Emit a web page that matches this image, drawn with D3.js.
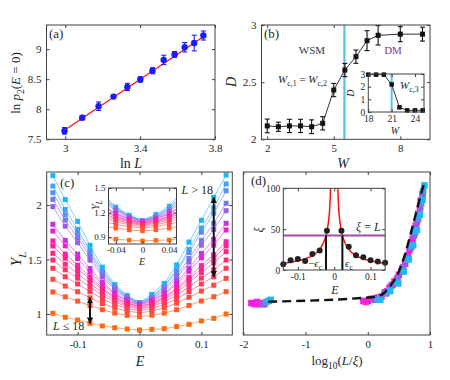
<!DOCTYPE html>
<html>
<head>
<meta charset="utf-8">
<script src="https://cdn.jsdelivr.net/npm/d3@7"></script>
<style>
body { margin: 0; background: #fff; }
svg text { font-family: "Liberation Serif", "DejaVu Serif", serif; fill: #262626; }
</style>
</head>
<body>
<svg width="450" height="380"></svg>
<script>
// ---------------- (a) ln p2 vs ln L ----------------
var lnL   = [2.996, 3.091, 3.178, 3.258, 3.332, 3.401, 3.466, 3.526, 3.584, 3.638, 3.689, 3.738];
var lnP2  = [7.64, 7.86, 8.05, 8.21, 8.37, 8.495, 8.64, 8.82, 8.91, 9.03, 9.10, 9.225];
var errP2 = [0.055, 0.036, 0.07, 0.03, 0.06, 0.045, 0.05, 0.078, 0.047, 0.078, 0.13, 0.075];
var fitL  = [3.0, 3.74];
var fitP2 = [7.66, 9.21];

// ---------------- (b) D vs W ----------------
var W    = [2, 2.5, 3, 3.5, 4, 4.5, 5, 5.5, 6, 6.5, 7, 8, 9];
var D    = [2.117, 2.11, 2.117, 2.117, 2.11, 2.14, 2.431, 2.606, 2.723, 2.863, 2.91, 2.92, 2.92];
var errD = [0.06, 0.04, 0.058, 0.058, 0.06, 0.058, 0.058, 0.058, 0.058, 0.087, 0.085, 0.066, 0.061];
var Wc12 = 5.48;
var Win  = [18, 19, 20, 21, 22, 23, 24, 25];
var Din  = [2.95, 2.95, 2.95, 2.18, 0.37, 0.13, 0.13, 0.13];
var Wc3  = 21;

// ---------------- (c) Y_L vs E ----------------
var E = [-0.14, -0.12, -0.10, -0.08, -0.06, -0.04, -0.02, 0, 0.02, 0.04, 0.06, 0.08, 0.10, 0.12, 0.14];
var YL = [
  [1.006, 0.970, 0.945, 0.915, 0.890, 0.874, 0.862, 0.853, 0.859, 0.865, 0.884, 0.905, 0.936, 0.960, 1.000],
  [1.202, 1.157, 1.118, 1.077, 1.039, 1.008, 0.987, 0.975, 0.988, 1.008, 1.039, 1.078, 1.119, 1.158, 1.205],
  [1.318, 1.256, 1.204, 1.149, 1.096, 1.055, 1.027, 1.010, 1.027, 1.056, 1.099, 1.153, 1.210, 1.264, 1.327],
  [1.419, 1.341, 1.275, 1.205, 1.139, 1.086, 1.051, 1.030, 1.051, 1.086, 1.139, 1.205, 1.275, 1.341, 1.419],
  [1.495, 1.405, 1.329, 1.248, 1.171, 1.110, 1.070, 1.045, 1.070, 1.110, 1.171, 1.248, 1.329, 1.405, 1.495],
  [1.557, 1.457, 1.371, 1.281, 1.196, 1.128, 1.083, 1.055, 1.083, 1.130, 1.200, 1.288, 1.381, 1.469, 1.572],
  [1.624, 1.512, 1.417, 1.317, 1.222, 1.146, 1.096, 1.065, 1.096, 1.146, 1.222, 1.317, 1.417, 1.512, 1.624],
  [1.670, 1.550, 1.448, 1.340, 1.238, 1.157, 1.103, 1.070, 1.103, 1.156, 1.236, 1.337, 1.444, 1.544, 1.663],
  [1.761, 1.625, 1.509, 1.386, 1.271, 1.179, 1.117, 1.080, 1.118, 1.180, 1.273, 1.391, 1.515, 1.633, 1.771],
  [1.823, 1.675, 1.550, 1.417, 1.292, 1.192, 1.126, 1.085, 1.126, 1.193, 1.294, 1.421, 1.556, 1.683, 1.832],
  [1.985, 1.806, 1.654, 1.493, 1.341, 1.220, 1.139, 1.090, 1.137, 1.214, 1.330, 1.476, 1.631, 1.776, 1.948],
  [2.052, 1.861, 1.698, 1.526, 1.363, 1.234, 1.148, 1.095, 1.146, 1.229, 1.353, 1.509, 1.675, 1.832, 2.016],
  [2.113, 1.910, 1.738, 1.556, 1.384, 1.247, 1.156, 1.100, 1.157, 1.249, 1.389, 1.564, 1.750, 1.925, 2.131],
  [2.174, 1.959, 1.777, 1.583, 1.401, 1.256, 1.159, 1.100, 1.160, 1.258, 1.406, 1.592, 1.789, 1.974, 2.193],
  [2.270, 2.050, 1.850, 1.630, 1.430, 1.270, 1.170, 1.105, 1.180, 1.280, 1.450, 1.660, 1.860, 2.070, 2.275]
];
var colC = ["#ff6a10", "#ff5a28", "#ff4a40", "#ff3a58", "#ff3070", "#ff2880", "#ff2090", "#f820b0",
            "#e622d4", "#c432e2", "#9460e2", "#7878ee", "#5a8ef2", "#3ca4f4", "#18b8f4"];

// ---------------- (d) scaling collapse ----------------
var dX = [
  [-1.87, -1.82, -1.78, -0.07, 0.0, 0.07, 0.16, 0.27, 0.35, 0.43, 0.50, 0.56, 0.62, 0.67, 0.72, 0.77, 0.81, 0.85],
  [-1.76, -1.73, -0.03, 0.05, 0.12, 0.22, 0.31, 0.40, 0.47, 0.54, 0.60, 0.65, 0.70, 0.75, 0.80, 0.84, 0.88],
  [-1.69, -1.66, 0.10, 0.19, 0.28, 0.38, 0.48, 0.57, 0.64, 0.69, 0.74, 0.79, 0.84, 0.88],
  [-1.63, 0.15, 0.30, 0.45, 0.55, 0.63, 0.70, 0.76, 0.81, 0.86, 0.89],
  [-1.59, -1.56, 0.20, 0.36, 0.49, 0.58, 0.66, 0.73, 0.79, 0.84, 0.88, 0.91]
];
var dY = [
  [1.10, 1.09, 1.11, 1.12, 1.12, 1.14, 1.15, 1.19, 1.24, 1.30, 1.36, 1.42, 1.50, 1.59, 1.69, 1.81, 1.92, 2.04],
  [1.09, 1.10, 1.11, 1.13, 1.14, 1.16, 1.21, 1.27, 1.32, 1.39, 1.46, 1.54, 1.63, 1.74, 1.87, 1.99, 2.10],
  [1.09, 1.09, 1.13, 1.15, 1.20, 1.26, 1.33, 1.43, 1.52, 1.61, 1.72, 1.84, 1.97, 2.10],
  [1.11, 1.13, 1.19, 1.29, 1.40, 1.50, 1.62, 1.75, 1.88, 2.02, 2.13],
  [1.12, 1.13, 1.13, 1.21, 1.28, 1.39, 1.50, 1.63, 1.77, 1.91, 2.05, 2.18]
];
var colD = ["#f01ee6", "#ff22cc", "#9060e0", "#5a90f0", "#1ab8f4"];
var fitX = [-1.6, 0, 0.2, 0.35, 0.5, 0.6, 0.7, 0.8, 0.9];
var fitY = [1.113, 1.151, 1.17, 1.25, 1.39, 1.55, 1.76, 1.98, 2.19];

// inset (d): correlation length vs E
var Exi = [-0.14, -0.12, -0.10, -0.08, -0.06, -0.04, -0.02, 0.02, 0.04, 0.06, 0.08, 0.10, 0.12, 0.14];
var xi  = [7, 12, 13.5, 11, 19.5, 24, 48, 48, 28.5, 18, 15.5, 12, 10.5, 9];
var fitE  = [0.01, 0.012, 0.015, 0.02, 0.03, 0.04, 0.06, 0.08, 0.10, 0.12, 0.14];
var fitXi = [100, 78, 62, 47, 33, 25.3, 17.7, 13.7, 11.2, 9.5, 8.3];
var xiL  = 42.3;
var epsC = 0.0225;

// ======================================================================
var svg = d3.select("svg");
var defs = svg.append("defs");
var frameCol = "#404040";

function rich(sel, parts, size) {
  var shift = 0;
  parts.forEach(function(p) {
    var f = p[1] || "", sub = f.indexOf("s") >= 0, want = sub ? size * 0.3 : 0;
    var ts = sel.append("tspan").text(p[0]).attr("dy", want - shift);
    shift = want;
    if (f.indexOf("i") >= 0) ts.attr("font-style", "italic");
    if (sub) ts.attr("font-size", size * 0.72);
  });
  return sel;
}

function label(g, x, y, parts, size, opt) {
  opt = opt || {};
  var t = g.append("text").attr("x", x).attr("y", y).attr("font-size", size)
    .attr("text-anchor", opt.anchor || "start");
  if (opt.rotate) t.attr("transform", "rotate(-90," + x + "," + y + ")");
  if (opt.fill) t.style("fill", opt.fill);
  return rich(t, parts, size);
}

var fmt = function(d) { return String(d); };

function frame(g, x, y, xt, yt, fs, pad) {
  pad = pad || 5;
  var r = x.range(), d = y.range();
  var ax = [
    [d3.axisBottom(x).tickValues(xt).tickFormat(fmt), "translate(0," + d[0] + ")"],
    [d3.axisTop(x).tickValues(xt).tickFormat(""), "translate(0," + d[1] + ")"],
    [d3.axisLeft(y).tickValues(yt).tickFormat(fmt), "translate(" + r[0] + ",0)"],
    [d3.axisRight(y).tickValues(yt).tickFormat(""), "translate(" + r[1] + ",0)"]
  ];
  ax.forEach(function(a) {
    var s = g.append("g").attr("transform", a[1])
      .call(a[0].tickSize(-3).tickPadding(pad));
    s.select(".domain").remove();
    s.attr("font-family", null).attr("font-size", fs);
    s.selectAll("line").attr("stroke", frameCol);
  });
  g.append("rect").attr("x", r[0]).attr("y", d[1])
    .attr("width", r[1] - r[0]).attr("height", d[0] - d[1])
    .attr("fill", "none").attr("stroke", frameCol);
}

function clip(id, x, y) {
  var r = x.range(), d = y.range();
  defs.append("clipPath").attr("id", id).append("rect")
    .attr("x", r[0]).attr("y", d[1]).attr("width", r[1] - r[0]).attr("height", d[0] - d[1]);
  return "url(#" + id + ")";
}

function whiteBox(g, x, y) {
  var r = x.range(), d = y.range();
  g.append("rect").attr("x", r[0]).attr("y", d[1])
    .attr("width", r[1] - r[0]).attr("height", d[0] - d[1]).attr("fill", "#fff");
}

function squares(g, xs, ys, x, y, size, color) {
  g.selectAll(null).data(xs).enter().append("rect")
    .attr("x", function(d) { return x(d) - size / 2; })
    .attr("y", function(d, i) { return y(ys[i]) - size / 2; })
    .attr("width", size).attr("height", size)
    .attr("fill", color);
}

function errBars(g, xs, ys, es, x, y, color, cap) {
  var e = g.append("g").attr("stroke", color).attr("stroke-width", 1.1);
  xs.forEach(function(v, i) {
    var px = x(v), lo = y(ys[i] - es[i]), hi = y(ys[i] + es[i]);
    e.append("line").attr("x1", px).attr("x2", px).attr("y1", lo).attr("y2", hi);
    e.append("line").attr("x1", px - cap).attr("x2", px + cap).attr("y1", lo).attr("y2", lo);
    e.append("line").attr("x1", px - cap).attr("x2", px + cap).attr("y1", hi).attr("y2", hi);
  });
}

// ---------------- panel (a) ----------------
var ga = svg.append("g");
var xa = d3.scaleLinear().domain([2.9, 3.8]).range([46.5, 215]);
var ya = d3.scaleLinear().domain([7.5, 9.4]).range([139.3, 25]);
ga.append("path")
  .datum(fitL.map(function(v, i) { return [v, fitP2[i]]; }))
  .attr("d", d3.line().x(function(d) { return xa(d[0]); }).y(function(d) { return ya(d[1]); }))
  .attr("stroke", "#ff1010").attr("stroke-width", 1.3).attr("fill", "none");
errBars(ga, lnL, lnP2, errP2, xa, ya, "#1a1aff", 2.5);
ga.selectAll(null).data(lnL).enter().append("circle")
  .attr("cx", function(d) { return xa(d); })
  .attr("cy", function(d, i) { return ya(lnP2[i]); })
  .attr("r", 3.2).attr("fill", "#1a1aff");
frame(ga, xa, ya, [3, 3.4, 3.8], [7.5, 8, 8.5, 9], 11);
label(ga, 49, 38, [["(a)"]], 13);
label(ga, 131, 168, [["ln "], ["L", "i"]], 14, {anchor: "middle"});
label(ga, 20, 83, [["ln "], ["p", "i"], ["2", "s"], ["("], ["E", "i"], [" = 0)"]], 13, {anchor: "middle", rotate: true});

// ---------------- panel (b) ----------------
var gb = svg.append("g");
var xb = d3.scaleLinear().domain([1.74, 9.34]).range([261.5, 430]);
var yb = d3.scaleLinear().domain([2, 3]).range([139.3, 25]);
gb.append("line").attr("x1", xb(Wc12)).attr("x2", xb(Wc12)).attr("y1", yb(2)).attr("y2", yb(3))
  .attr("stroke", "#55c1ec").attr("stroke-width", 2.2);
gb.append("path")
  .datum(W.map(function(v, i) { return [v, D[i]]; }))
  .attr("d", d3.line().x(function(d) { return xb(d[0]); }).y(function(d) { return yb(d[1]); }))
  .attr("stroke", "#333").attr("stroke-width", 1).attr("fill", "none");
errBars(gb, W, D, errD, xb, yb, "#111", 2.5);
squares(gb, W, D, xb, yb, 5, "#111");
frame(gb, xb, yb, [2, 5, 8], [2, 2.5, 3], 11);
label(gb, 264, 38, [["(b)"]], 13);
label(gb, 343, 168, [["W", "i"]], 14, {anchor: "middle"});
label(gb, 236, 82, [["D", "i"]], 14, {anchor: "middle", rotate: true});
label(gb, 312, 54, [["WSM"]], 11, {anchor: "middle", fill: "#2c3e50"});
label(gb, 393, 54, [["DM"]], 11, {anchor: "middle", fill: "#7d3c98"});
label(gb, 278, 83, [["W", "i"], ["c,1", "s"], [" = "], ["W", "i"], ["c,2", "s"]], 11);

// inset (b)
var xbi = d3.scaleLinear().domain([18, 25.16]).range([368.3, 424]);
var ybi = d3.scaleLinear().domain([0, 3]).range([112, 74]);
whiteBox(gb, xbi, ybi);
gb.append("line").attr("x1", xbi(Wc3)).attr("x2", xbi(Wc3)).attr("y1", ybi(0)).attr("y2", ybi(3))
  .attr("stroke", "#55c1ec").attr("stroke-width", 2);
gb.append("path")
  .datum(Win.map(function(v, i) { return [v, Din[i]]; }))
  .attr("d", d3.line().x(function(d) { return xbi(d[0]); }).y(function(d) { return ybi(d[1]); }))
  .attr("stroke", "#333").attr("stroke-width", 1).attr("fill", "none");
squares(gb, Win, Din, xbi, ybi, 4.5, "#111");
frame(gb, xbi, ybi, [18, 21, 24], [0, 1, 2, 3], 9.5, 3);
label(gb, 400, 89, [["W", "i"], ["c,3", "s"]], 11);
label(gb, 395, 134, [["W", "i"]], 10, {anchor: "middle"});
label(gb, 354, 93, [["D", "i"]], 10, {anchor: "middle", rotate: true});

// ---------------- panel (c) ----------------
var gc = svg.append("g");
var xc = d3.scaleLinear().domain([-0.15, 0.15]).range([46.7, 232.3]);
var yc = d3.scaleLinear().domain([0.807, 2.303]).range([335, 172]);

// largest L drawn first so the small-L curves sit on top near E = 0
function drawYL(g, x, y, clipUrl, size, keep) {
  d3.range(YL.length - 1, -1, -1).forEach(function(k) {
    var s = YL[k];
    g.append("path")
      .datum(E.map(function(v, i) { return [v, s[i]]; }))
      .attr("d", d3.line().x(function(d) { return x(d[0]); }).y(function(d) { return y(d[1]); }))
      .attr("stroke", colC[k]).attr("stroke-opacity", 0.6).attr("stroke-width", 1)
      .attr("fill", "none").attr("clip-path", clipUrl);
    var idx = E.map(function(v, i) { return i; }).filter(function(i) { return keep(E[i]); });
    squares(g, idx.map(function(i) { return E[i]; }), idx.map(function(i) { return s[i]; }), x, y, size, colC[k]);
  });
}
drawYL(gc, xc, yc, clip("clipC", xc, yc), 5, function() { return true; });

// arrows
var mk = defs.append("marker").attr("id", "arr").attr("viewBox", "0 0 10 10")
  .attr("refX", 9).attr("refY", 5).attr("markerWidth", 3.2).attr("markerHeight", 3.2)
  .attr("orient", "auto-start-reverse").attr("markerUnits", "strokeWidth");
mk.append("path").attr("d", "M0,0 L10,5 L0,10 z").attr("fill", "#111");
function arrow(iE, sLo, sHi) {
  gc.append("line").attr("x1", xc(E[iE])).attr("x2", xc(E[iE]))
    .attr("y1", yc(YL[sLo][iE])).attr("y2", yc(YL[sHi][iE]))
    .attr("stroke", "#111").attr("stroke-width", 2)
    .attr("marker-start", "url(#arr)").attr("marker-end", "url(#arr)");
}
arrow(3, 0, 2);
arrow(13, 3, 14);

frame(gc, xc, yc, [-0.1, 0, 0.1], [1, 1.5, 2], 11);
label(gc, 60, 187, [["(c)"]], 13);
label(gc, 140, 366, [["E", "i"]], 14, {anchor: "middle"});
label(gc, 21, 259, [["Y", "i"], ["L", "is"]], 15, {anchor: "middle", rotate: true});
label(gc, 213, 194, [["L", "i"], [" > 18"]], 12, {anchor: "end"});
label(gc, 53, 330, [["L", "i"], [" ≤ 18"]], 12);

// inset (c)
var xci = d3.scaleLinear().domain([-0.051, 0.051]).range([108.5, 176.5]);
var yci = d3.scaleLinear().domain([0.815, 1.5]).range([244, 188]);
whiteBox(gc, xci, yci);
drawYL(gc, xci, yci, clip("clipCi", xci, yci), 4.5, function(v) { return Math.abs(v) <= 0.041; });
frame(gc, xci, yci, [-0.04, 0, 0.04], [0.9, 1.2, 1.5], 9, 3);
label(gc, 142, 265, [["E", "i"]], 10, {anchor: "middle"});
label(gc, 99, 205, [["Y", "i"], ["L", "is"]], 10, {anchor: "middle", rotate: true});

// ---------------- panel (d) ----------------
var gd = svg.append("g");
var xd = d3.scaleLinear().domain([-2, 1]).range([243.3, 430]);
var yd = d3.scaleLinear().domain([0.807, 2.303]).range([335, 172]);
dX.forEach(function(xs, k) { squares(gd, xs, dY[k], xd, yd, 6.5, colD[k]); });
gd.append("path")
  .datum(fitX.map(function(v, i) { return [v, fitY[i]]; }))
  .attr("d", d3.line().curve(d3.curveMonotoneX).x(function(d) { return xd(d[0]); }).y(function(d) { return yd(d[1]); }))
  .attr("stroke", "#111").attr("stroke-width", 2.4).attr("stroke-dasharray", "9,5").attr("fill", "none");
frame(gd, xd, yd, [-2, -1, 0, 1], [], 11);
label(gd, 251, 185, [["(d)"]], 13);
label(gd, 337, 365, [["log"], ["10", "s"], ["("], ["L", "i"], ["/"], ["ξ", "i"], [")"]], 13, {anchor: "middle"});

// inset (d)
var xdi = d3.scaleLinear().domain([-0.14, 0.14]).range([283.3, 385.1]);
var ydi = d3.scaleLinear().domain([0, 100]).range([270, 188.3]);
whiteBox(gd, xdi, ydi);
var cDi = clip("clipDi", xdi, ydi);
var fitLine = d3.line().curve(d3.curveMonotoneX)
  .x(function(d) { return xdi(d[0]); }).y(function(d) { return ydi(d[1]); });
gd.append("path").datum(fitE.map(function(v, i) { return [-v, fitXi[i]]; }).reverse())
  .attr("d", fitLine).attr("stroke", "#ff1010").attr("stroke-width", 1.5).attr("fill", "none").attr("clip-path", cDi);
gd.append("path").datum(fitE.map(function(v, i) { return [v, fitXi[i]]; }))
  .attr("d", fitLine).attr("stroke", "#ff1010").attr("stroke-width", 1.5).attr("fill", "none").attr("clip-path", cDi);
gd.append("line").attr("x1", xdi(-0.14)).attr("x2", xdi(0.14)).attr("y1", ydi(xiL)).attr("y2", ydi(xiL))
  .attr("stroke", "#a14da6").attr("stroke-width", 2);
[-epsC, epsC].forEach(function(v) {
  gd.append("line").attr("x1", xdi(v)).attr("x2", xdi(v)).attr("y1", ydi(xiL)).attr("y2", ydi(0))
    .attr("stroke", "#111").attr("stroke-width", 2);
});
gd.selectAll(null).data(Exi).enter().append("circle")
  .attr("cx", function(d) { return xdi(d); })
  .attr("cy", function(d, i) { return ydi(xi[i]); })
  .attr("r", 3).attr("fill", "#222");
frame(gd, xdi, ydi, [-0.1, 0, 0.1], [0, 50, 100], 9.5, 3);
label(gd, 356, 231, [["ξ", "i"], [" = "], ["L", "i"]], 12);
label(gd, 308, 267, [["−"], ["ϵ", "i"], ["c", "s"]], 11);
label(gd, 345, 267, [["ϵ", "i"], ["c", "s"]], 11);
label(gd, 335, 294, [["E", "i"]], 12, {anchor: "middle"});
label(gd, 263, 230, [["ξ", "i"]], 12, {anchor: "middle", rotate: true});
</script>
</body>
</html>
